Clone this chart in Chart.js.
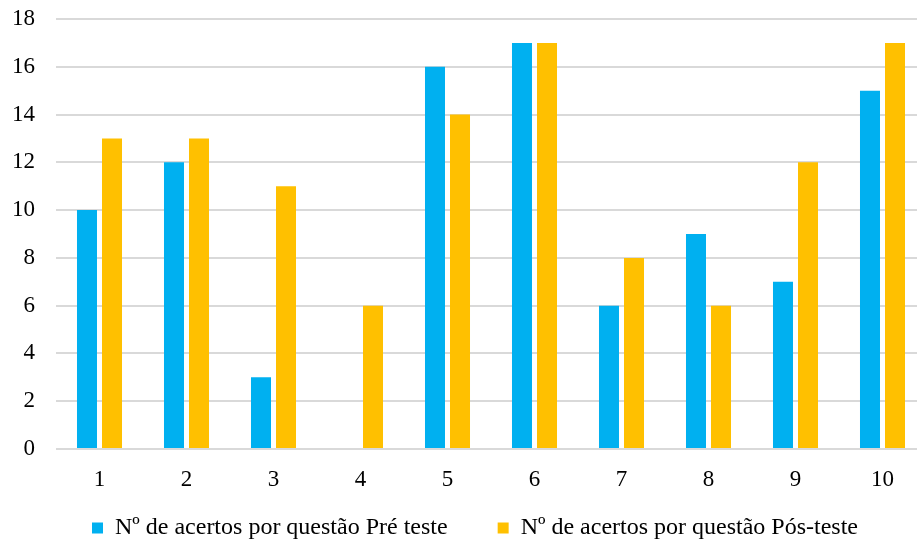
<!DOCTYPE html>
<html>
<head>
<meta charset="utf-8">
<script src="https://cdn.jsdelivr.net/npm/chart.js@4.4.1/dist/chart.umd.min.js"></script>
<style>
  html, body { margin: 0; padding: 0; background: #ffffff; overflow: hidden; }
  #wrap { width: 926px; height: 543px; position: relative; }
</style>
</head>
<body>
<div id="wrap"><canvas id="chart"></canvas></div>
<script>
// Questions 1..10 and number of correct answers before / after
const categories = ['1', '2', '3', '4', '5', '6', '7', '8', '9', '10'];
const preTest = [10, 12, 3, 0, 16, 17, 6, 9, 7, 15];
const postTest = [13, 13, 11, 6, 14, 17, 8, 6, 12, 17];
const seriesNames = ['Nº de acertos por questão Pré teste', 'Nº de acertos por questão Pós-teste'];
const yTicks = [0, 2, 4, 6, 8, 10, 12, 14, 16, 18];

const FONT = "'Liberation Serif', 'Times New Roman', serif";

// The legend uses a wide label padding for the gap between its two items;
// keep its reserved height compact and place the row just under the axis labels.
const LEGEND_HEIGHT = 38;
const legendPlacement = {
  id: 'legendPlacement',
  beforeLayout(chart) {
    const lg = chart.legend;
    if (lg && !lg.__compact) {
      const fit = lg.fit.bind(lg);
      lg.fit = function () { fit(); this.height = LEGEND_HEIGHT; };
      lg.__compact = true;
    }
  },
  afterLayout(chart) {
    const lg = chart.legend;
    if (!lg) return;
    const dx = 12, dy = -39;
    lg.left += dx; lg.right += dx;
    lg.top += dy;
    // the legend clips to its own box, so let the box reach the canvas bottom
    lg.bottom = chart.height;
    lg.height = lg.bottom - lg.top;
  }
};

new Chart(document.getElementById('chart'), {
  type: 'bar',
  data: {
    labels: categories,
    datasets: [
      { label: seriesNames[0], data: preTest, backgroundColor: '#00B0F0', borderWidth: 0 },
      { label: seriesNames[1], data: postTest, backgroundColor: '#FFC000', borderWidth: 0 }
    ]
  },
  options: {
    responsive: true,
    maintainAspectRatio: false,
    animation: false,
    categoryPercentage: 0.575,
    barPercentage: 0.8,
    layout: { padding: { top: 19, left: 0, right: 0, bottom: 0 } },
    plugins: {
      tooltip: { enabled: false },
      legend: {
        position: 'bottom',
        labels: {
          boxWidth: 11,
          boxHeight: 11,
          padding: 50,
          color: '#000000',
          font: { family: FONT, size: 24 }
        }
      }
    },
    scales: {
      x: {
        grid: { display: false, drawTicks: false },
        border: { display: false },
        ticks: { color: '#000000', padding: 17, font: { family: FONT, size: 23 } },
        afterFit(scale) { scale.height = 56; }
      },
      y: {
        min: 0,
        max: 18,
        afterBuildTicks(scale) { scale.ticks = yTicks.map(v => ({ value: v })); },
        grid: { color: '#d9d9d9', lineWidth: 2, drawTicks: false },
        border: { display: false },
        ticks: { color: '#000000', padding: 21, font: { family: FONT, size: 23 } },
        afterFit(scale) {
          scale.width = 56;
          scale.paddingTop = 0;
          scale.paddingBottom = 0;
        }
      }
    }
  },
  plugins: [legendPlacement]
});
</script>
</body>
</html>
